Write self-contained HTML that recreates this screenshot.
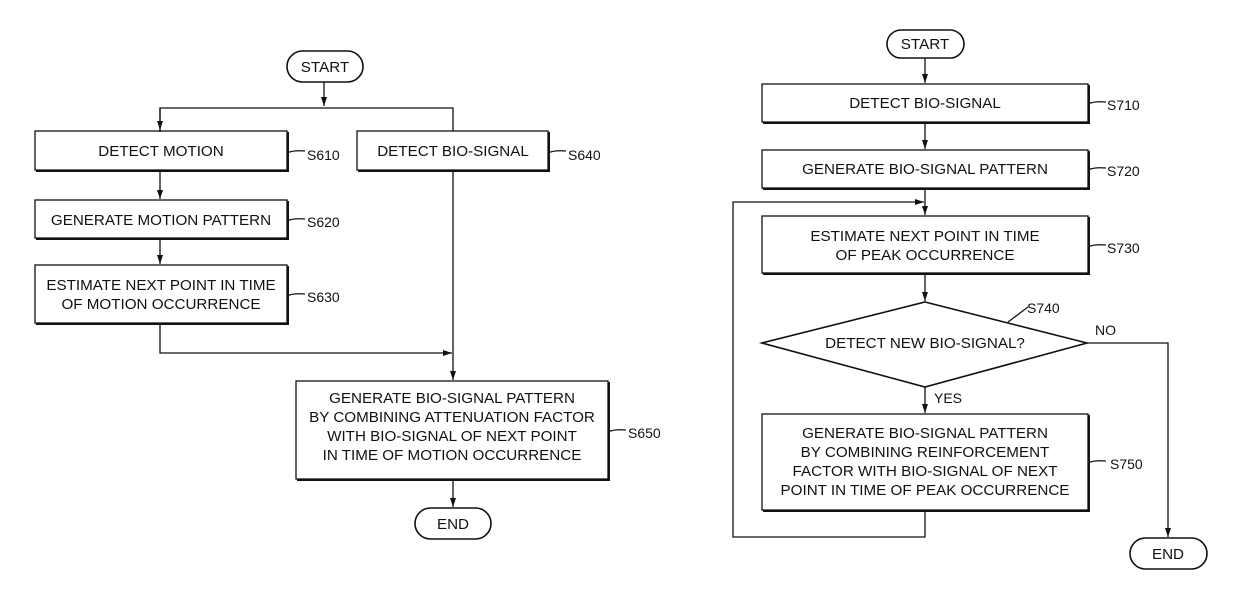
<!DOCTYPE html>
<html><head><meta charset="utf-8"><style>
html,body{margin:0;padding:0;background:#fff;}
svg{display:block;}
text{font-family:"Liberation Sans",Arial,sans-serif;font-size:14px;fill:#111;}
.b text{font-size:15.2px;}
</style></head><body>
<svg width="1239" height="600" viewBox="0 0 1239 600" xmlns="http://www.w3.org/2000/svg">
<defs>
<marker id="a" markerWidth="10" markerHeight="8" refX="9" refY="4" orient="auto" markerUnits="userSpaceOnUse">
<path d="M0,1 L9,4 L0,7 Z" fill="#111"/></marker>
</defs>
<g stroke="#111" stroke-width="1.3" fill="none">
<rect x="287" y="51" width="76" height="31" rx="15.5" stroke-width="1.6"/>
<line x1="324" y1="82" x2="324" y2="106" marker-end="url(#a)"/>
<polyline points="160,132 160,108 453,108 453,131"/>
<line x1="160" y1="108" x2="160" y2="130" marker-end="url(#a)"/>
<rect x="35" y="131" width="252" height="39"/>
<rect x="357" y="131" width="191" height="39"/>
<line x1="160" y1="170" x2="160" y2="199" marker-end="url(#a)"/>
<rect x="35" y="200" width="252" height="38"/>
<line x1="160" y1="238" x2="160" y2="264" marker-end="url(#a)"/>
<rect x="35" y="265" width="252" height="58"/>
<polyline points="160,323 160,353 452,353" marker-end="url(#a)"/>
<line x1="453" y1="170" x2="453" y2="380" marker-end="url(#a)"/>
<rect x="296" y="381" width="312" height="98"/>
<line x1="453" y1="479" x2="453" y2="507" marker-end="url(#a)"/>
<rect x="415" y="508" width="76" height="31" rx="15.5" stroke-width="1.6"/>
<path d="M287,153 q6,-3 18,-2"/>
<path d="M548,153 q6,-3 18,-2"/>
<path d="M287,221 q6,-3 18,-2"/>
<path d="M287,296 q6,-3 18,-2"/>
<path d="M608,432 q6,-3 18,-2"/>
<rect x="887" y="30" width="77" height="28" rx="14" stroke-width="1.6"/>
<line x1="925" y1="58" x2="925" y2="83" marker-end="url(#a)"/>
<rect x="762" y="84" width="326" height="38"/>
<line x1="925" y1="122" x2="925" y2="149" marker-end="url(#a)"/>
<rect x="762" y="150" width="326" height="38"/>
<line x1="925" y1="188" x2="925" y2="215" marker-end="url(#a)"/>
<polyline points="925,510 925,537 733,537 733,202 924,202" marker-end="url(#a)"/>
<rect x="762" y="216" width="326" height="57"/>
<line x1="925" y1="273" x2="925" y2="301" marker-end="url(#a)"/>
<polygon points="925,302 1087,343 925,387 762,343" stroke-width="1.6"/>
<line x1="925" y1="387" x2="925" y2="413" marker-end="url(#a)"/>
<rect x="762" y="414" width="326" height="96"/>
<polyline points="1087,343 1168,343 1168,537" marker-end="url(#a)"/>
<rect x="1130" y="538" width="77" height="31" rx="15.5" stroke-width="1.6"/>
<path d="M1088,104 q6,-3 18,-2"/>
<path d="M1088,170 q6,-3 18,-2"/>
<path d="M1088,247 q6,-3 18,-2"/>
<path d="M1088,463 q6,-3 18,-2"/>
<path d="M1008,322 q8,-6 20,-15"/>
</g>
<g stroke="#111" stroke-width="2" fill="none">
<polyline points="36,171 288,171 288,132"/>
<polyline points="358,171 549,171 549,132"/>
<polyline points="36,239 288,239 288,201"/>
<polyline points="36,324 288,324 288,266"/>
<polyline points="297,480 609,480 609,382"/>
<polyline points="763,123 1089,123 1089,85"/>
<polyline points="763,189 1089,189 1089,151"/>
<polyline points="763,274 1089,274 1089,217"/>
<polyline points="763,511 1089,511 1089,415"/>
</g>
<g text-anchor="middle" class="b">
<text x="325" y="72">START</text>
<text x="161" y="156">DETECT MOTION</text>
<text x="453" y="156">DETECT BIO-SIGNAL</text>
<text x="161" y="225">GENERATE MOTION PATTERN</text>
<text x="161" y="290">ESTIMATE NEXT POINT IN TIME</text>
<text x="161" y="309">OF MOTION OCCURRENCE</text>
<text x="452" y="403">GENERATE BIO-SIGNAL PATTERN</text>
<text x="452" y="422">BY COMBINING ATTENUATION FACTOR</text>
<text x="452" y="441">WITH BIO-SIGNAL OF NEXT POINT</text>
<text x="452" y="460">IN TIME OF MOTION OCCURRENCE</text>
<text x="453" y="529">END</text>
<text x="925" y="49">START</text>
<text x="925" y="108">DETECT BIO-SIGNAL</text>
<text x="925" y="174">GENERATE BIO-SIGNAL PATTERN</text>
<text x="925" y="241">ESTIMATE NEXT POINT IN TIME</text>
<text x="925" y="260">OF PEAK OCCURRENCE</text>
<text x="925" y="348">DETECT NEW BIO-SIGNAL?</text>
<text x="925" y="438">GENERATE BIO-SIGNAL PATTERN</text>
<text x="925" y="457">BY COMBINING REINFORCEMENT</text>
<text x="925" y="476">FACTOR WITH BIO-SIGNAL OF NEXT</text>
<text x="925" y="495">POINT IN TIME OF PEAK OCCURRENCE</text>
<text x="1168" y="559">END</text>
</g>
<text x="307" y="160">S610</text>
<text x="568" y="160">S640</text>
<text x="307" y="227">S620</text>
<text x="307" y="302">S630</text>
<text x="628" y="438">S650</text>
<text x="1107" y="110">S710</text>
<text x="1107" y="176">S720</text>
<text x="1107" y="253">S730</text>
<text x="1027" y="313">S740</text>
<text x="1095" y="335">NO</text>
<text x="934" y="403">YES</text>
<text x="1110" y="469">S750</text>
</svg>
</body></html>
